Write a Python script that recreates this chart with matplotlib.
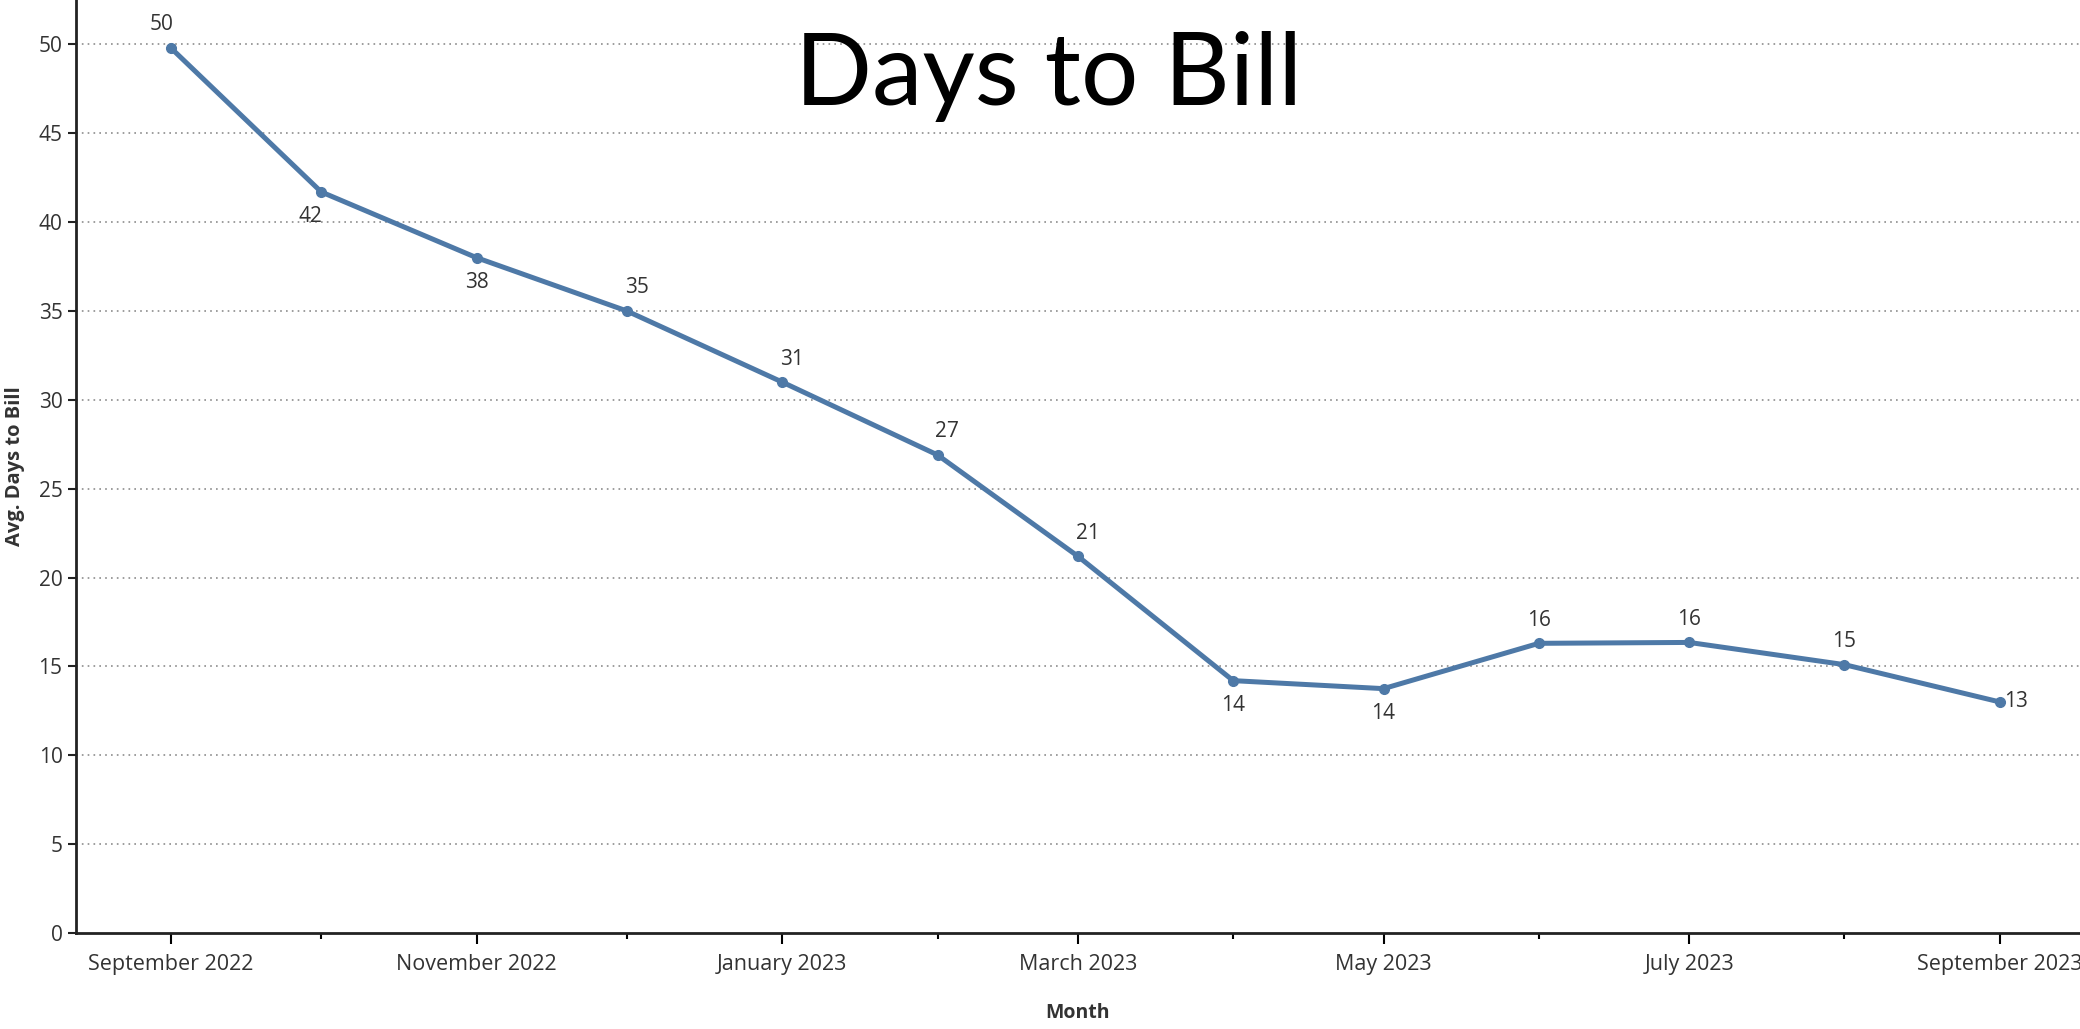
import matplotlib
matplotlib.use("Agg")
import matplotlib.pyplot as plt
import matplotlib.dates as mdates
import pandas as pd

# data
months = ["2022-09", "2022-10", "2022-11", "2022-12", "2023-01", "2023-02", "2023-03",
          "2023-04", "2023-05", "2023-06", "2023-07", "2023-08", "2023-09"]
days_to_bill = [49.8, 41.7, 38.0, 35.0, 31.0, 26.9, 21.2, 14.2, 13.75, 16.3, 16.35, 15.1, 13.0]
label_pos = ["above", "below", "below", "above", "above", "above", "above",
             "below", "below", "above", "above", "above", "right"]
# horizontal nudge of each mark label (points)
label_dx = [-7, -8, 0, 7, 7, 7, 7, 0, 0, 0, 0, 0, 0]

dates = pd.to_datetime(months)

fig = plt.figure(figsize=(20.8, 10.29), dpi=100)
ax = fig.add_axes([0.0364, 0.0933, 0.9636, 0.9067])

blue = "#4e79a7"
ax.plot(dates, days_to_bill, color=blue, lw=3.6, marker="o", ms=7, zorder=3)

lab_font = dict(fontsize=15, color="#333333", family="Open Sans")
for d, v, p, dx in zip(dates, days_to_bill, label_pos, label_dx):
    txt = str(int(round(v)))
    if p == "above":
        ax.annotate(txt, (d, v), xytext=(dx, 9), textcoords="offset points",
                    ha="center", va="bottom", **lab_font)
    elif p == "below":
        ax.annotate(txt, (d, v), xytext=(dx, -10), textcoords="offset points",
                    ha="center", va="top", **lab_font)
    else:
        ax.annotate(txt, (d, v), xytext=(3, 0), textcoords="offset points",
                    ha="left", va="center", **lab_font)

ax.set_ylim(0, 52.5)
ax.set_yticks(range(0, 51, 5))
ax.set_xlim(pd.Timestamp("2022-08-13"), pd.Timestamp("2023-09-17"))

ax.xaxis.set_major_locator(mdates.MonthLocator(bymonth=[1, 3, 5, 7, 9, 11]))
ax.xaxis.set_minor_locator(mdates.MonthLocator())
ax.xaxis.set_major_formatter(mdates.DateFormatter("%B %Y"))

for y in range(5, 51, 5):
    ax.axhline(y, color="#8c8c8c", lw=1.2, ls=(0, (1, 2.5)), zorder=1)

for s in ["top", "right"]:
    ax.spines[s].set_visible(False)
ax.spines["left"].set_linewidth(2)
ax.spines["bottom"].set_linewidth(2)
ax.spines["left"].set_color("#222222")
ax.spines["bottom"].set_color("#222222")

ax.tick_params(axis="y", labelsize=15, length=6, width=1.5, colors="#222222", labelcolor="#333333")
ax.tick_params(axis="x", which="major", labelsize=15.5, length=8, width=1.5, pad=7, labelcolor="#333333")
ax.tick_params(axis="x", which="minor", length=4, width=1.5)
for lbl in ax.get_xticklabels() + ax.get_yticklabels():
    lbl.set_family("Open Sans")

ax.set_xlabel("Month", fontsize=14, fontweight="bold", color="#333333", labelpad=20, family="Open Sans")
ax.set_ylabel("Avg. Days to Bill", fontsize=14.5, fontweight="bold", color="#333333", labelpad=10, family="Open Sans")

fig.text(0.504, 0.898, "Days to Bill", ha="center", va="baseline", fontsize=73, family="Lato", color="black")

fig.savefig("out.png", dpi=100)
